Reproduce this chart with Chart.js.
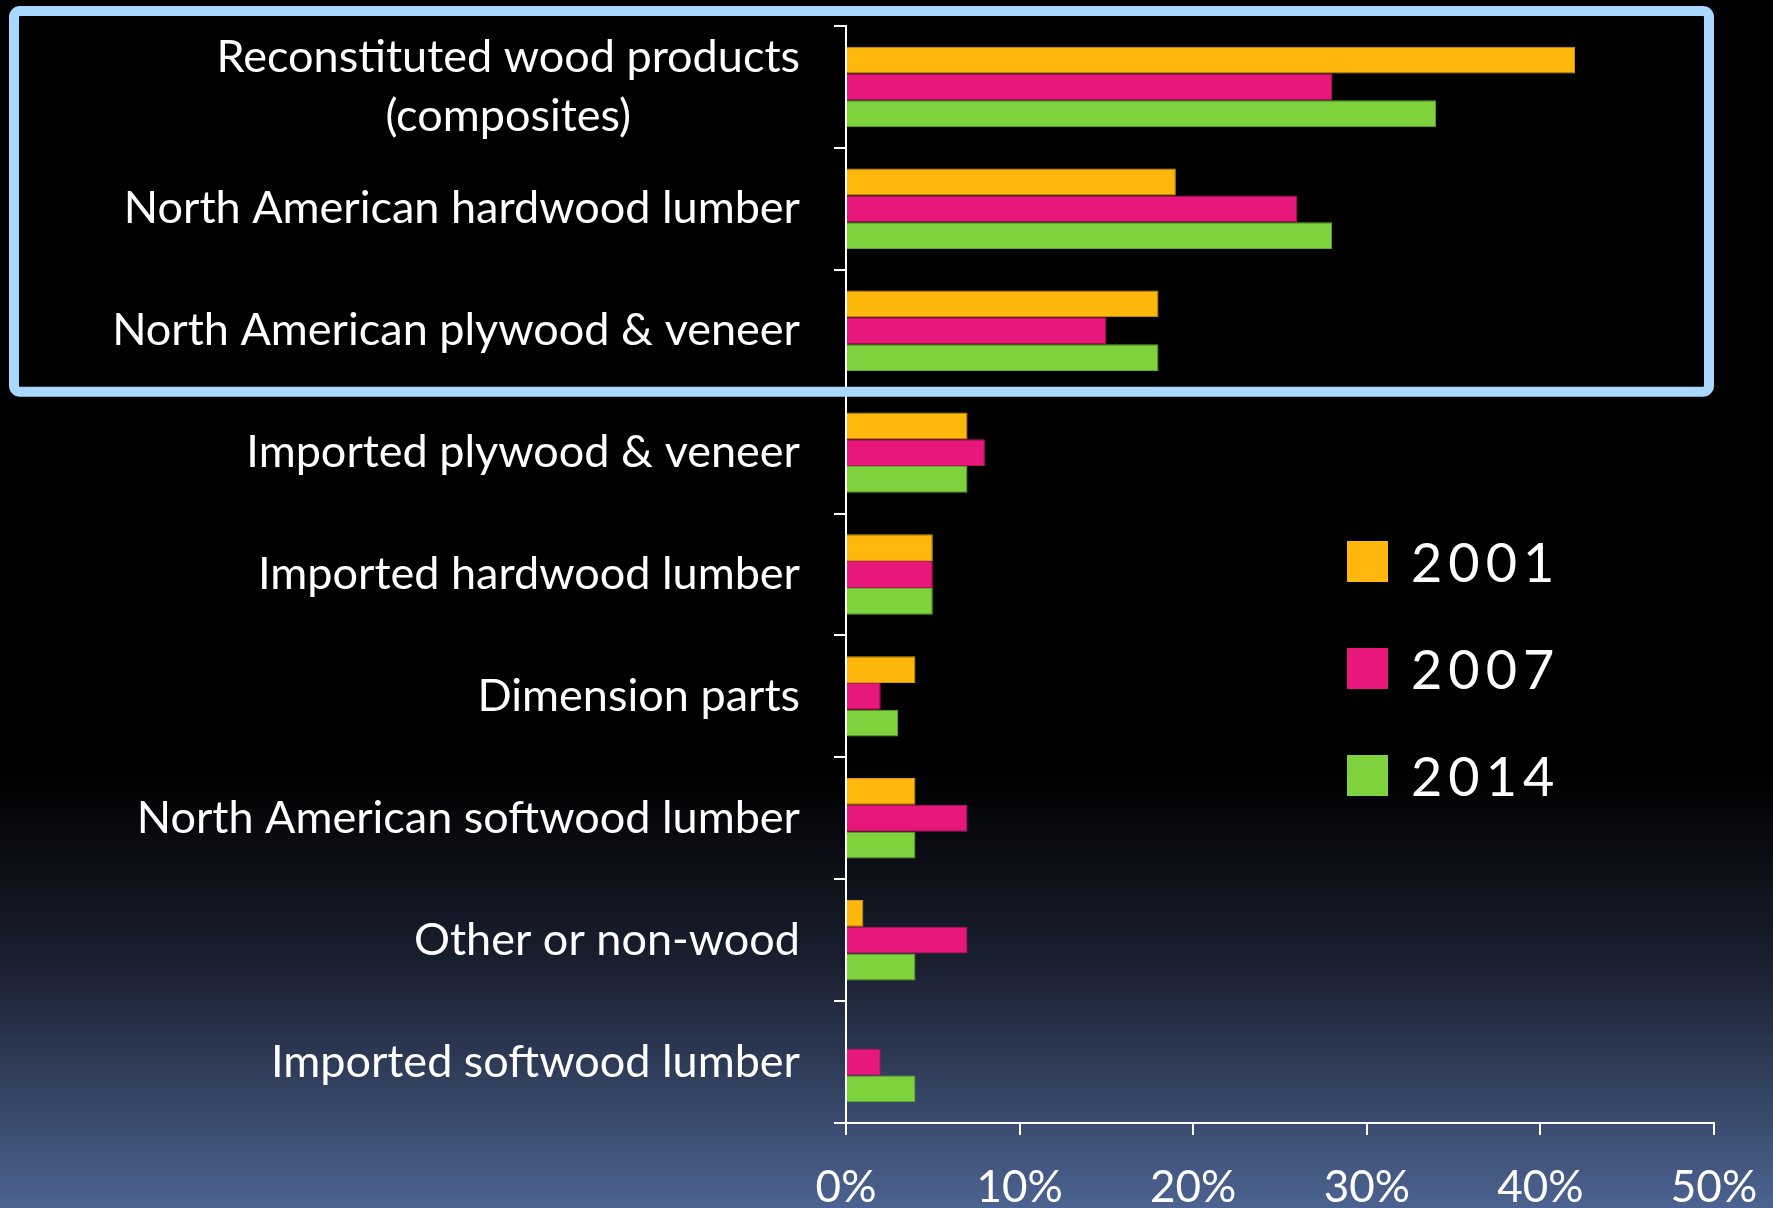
<!DOCTYPE html>
<html>
<head>
<meta charset="utf-8">
<script src="https://cdn.jsdelivr.net/npm/chart.js@4.4.1/dist/chart.umd.min.js"></script>
<style>
  html, body { margin: 0; padding: 0; background: #000; }
  #wrap { position: relative; width: 1773px; height: 1208px; }
  #legend { position: absolute; left: 1347px; top: 541px; font-family: Lato, sans-serif; color: #fff; }
  #legend .item { display: flex; align-items: center; height: 41px; margin-bottom: 66px; }
  #legend .swatch { width: 41px; height: 41px; margin-right: 23px; }
  #legend .label { font-size: 54px; letter-spacing: 6px; line-height: 41px; }
</style>
</head>
<body>
<div id="wrap">
  <canvas id="woodChart" width="1773" height="1208"></canvas>
  <div id="legend"></div>
</div>
<script>
const categories = [
    ["Reconstituted wood products", "(composites)"],
    "North American hardwood lumber",
    "North American plywood & veneer",
    "Imported plywood & veneer",
    "Imported hardwood lumber",
    "Dimension parts",
    "North American softwood lumber",
    "Other or non-wood",
    "Imported softwood lumber"
];
const years = ["2001", "2007", "2014"];
const share2001 = [42, 19, 18, 7, 5, 4, 4, 1, 0];
const share2007 = [28, 26, 15, 8, 5, 2, 7, 7, 2];
const share2014 = [34, 28, 18, 7, 5, 3, 4, 4, 4];
const xTicks = [0, 10, 20, 30, 40, 50];
const barColors = ["#FFB70C", "#E8177B", "#7ED33C"];
const barEdges = ["#D89A0A", "#B81262", "#62A82F"];

const labelFont = "45px Lato, 'Open Sans', sans-serif";

// gradient backdrop: black at the top fading to slate blue at the bottom
const backdrop = {
    id: "backdrop",
    beforeDraw(chart) {
        const ctx = chart.ctx;
        const g = ctx.createLinearGradient(0, 0, 0, chart.height);
        g.addColorStop(0, "#000000");
        g.addColorStop(0.64, "#000000");
        g.addColorStop(0.8, "#1a2030");
        g.addColorStop(1, "#4c6391");
        ctx.save();
        ctx.fillStyle = g;
        ctx.fillRect(0, 0, chart.width, chart.height);
        ctx.restore();
    }
};

// category names, each block right aligned to the axis, lines centred inside it
const categoryLabels = {
    id: "categoryLabels",
    afterDraw(chart) {
        const ctx = chart.ctx;
        const y = chart.scales.y;
        const right = y.right - 46;
        const lineH = 59;
        ctx.save();
        ctx.font = labelFont;
        ctx.fillStyle = "#fff";
        ctx.textAlign = "center";
        ctx.textBaseline = "middle";
        categories.forEach((cat, i) => {
            const lines = Array.isArray(cat) ? cat : [cat];
            const w = Math.max(...lines.map(l => ctx.measureText(l).width));
            const cx = right - w / 2;
            const cy = y.getPixelForValue(i);
            lines.forEach((l, k) => {
                ctx.fillText(l, cx, cy + (k - (lines.length - 1) / 2) * lineH);
            });
        });
        ctx.restore();
    }
};

// light blue frame round the first three groups
const highlight = {
    id: "highlight",
    afterDraw(chart) {
        const ctx = chart.ctx;
        const y = chart.scales.y;
        const x = chart.scales.x;
        const bottom = (y.getPixelForValue(2) + y.getPixelForValue(3)) / 2;
        ctx.save();
        ctx.strokeStyle = "#A9D8FF";
        ctx.lineWidth = 10;
        ctx.beginPath();
        ctx.roundRect(14, 11, x.getPixelForValue(50) - 5 - 14, bottom - 11, 6);
        ctx.stroke();
        ctx.restore();
    }
};

const seriesData = [share2001, share2007, share2014];

new Chart(document.getElementById("woodChart"), {
    type: "bar",
    data: {
        labels: categories,
        datasets: years.map((yr, i) => ({
            label: yr,
            data: seriesData[i],
            backgroundColor: barColors[i],
            borderColor: barEdges[i],
            borderWidth: 1,
            borderSkipped: "start",
            categoryPercentage: 0.66,
            barPercentage: 1.0
        }))
    },
    options: {
        indexAxis: "y",
        responsive: false,
        animation: false,
        devicePixelRatio: 1,
        layout: { padding: { top: 26, right: 59, left: 0, bottom: 0 } },
        plugins: {
            legend: { display: false },
            tooltip: { enabled: false }
        },
        scales: {
            x: {
                min: 0,
                max: 50,
                afterBuildTicks(scale) {
                    scale.ticks = xTicks.map(v => ({ value: v }));
                },
                afterFit(scale) {
                    scale.height = 85;
                    scale.paddingLeft = 0;
                    scale.paddingRight = 0;
                },
                border: { display: true, color: "#fff", width: 2 },
                grid: { drawOnChartArea: false, drawTicks: true, tickLength: 12, color: "#fff", lineWidth: 2 },
                ticks: {
                    color: "#fff",
                    font: { family: "Lato, sans-serif", size: 44 },
                    padding: 26,
                    maxRotation: 0,
                    callback: v => v + "%"
                }
            },
            y: {
                afterFit(scale) { scale.width = 846; },
                border: { display: true, color: "#fff", width: 2 },
                grid: { drawOnChartArea: false, drawTicks: true, tickLength: 12, color: "#fff", lineWidth: 2, offset: true },
                ticks: { display: false }
            }
        }
    },
    plugins: [backdrop, categoryLabels, highlight]
});

// legend swatches
const legendBox = document.getElementById("legend");
years.forEach((yr, i) => {
    const item = document.createElement("div");
    item.className = "item";
    const sw = document.createElement("div");
    sw.className = "swatch";
    sw.style.background = barColors[i];
    const lb = document.createElement("div");
    lb.className = "label";
    lb.textContent = yr;
    item.appendChild(sw);
    item.appendChild(lb);
    legendBox.appendChild(item);
});
</script>
</body>
</html>
